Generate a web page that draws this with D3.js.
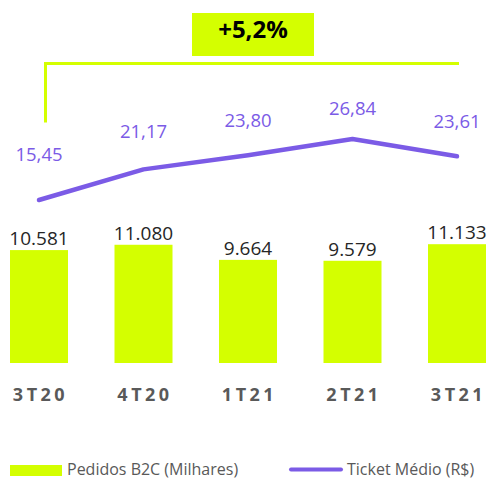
<!DOCTYPE html>
<meta charset="utf-8">
<head>
<script src="https://d3js.org/d3.v7.min.js"></script>
<style>
  body { margin: 0; background: #fff; }
  text { font-family: "Open Sans", "Liberation Sans", sans-serif; }
</style>
</head>
<body>
<div id="my_dataviz"></div>
<script>

// data
var quarters = ["3T20", "4T20", "1T21", "2T21", "3T21"];
var pedidos = [10581, 11080, 9664, 9579, 11133];
var ticket = [15.45, 21.17, 23.80, 26.84, 23.61];
var pedidosLabels = ["10.581", "11.080", "9.664", "9.579", "11.133"];
var ticketLabels = ["15,45", "21,17", "23,80", "26,84", "23,61"];
var growthLabel = "+5,2%";
var legendNames = ["Pedidos B2C (Milhares)", "Ticket Médio (R$)"];

var width = 490, height = 480;
var green = "#D4FF00", purple = "#7B5BE6", gray = "#595959";

var svg = d3.select("#my_dataviz")
  .append("svg")
    .attr("width", width)
    .attr("height", height);

// x scale, bar centres ~39 .. 457
var x = d3.scaleBand()
  .domain(quarters)
  .range([-13.25, 509.25])
  .paddingInner(0.445)
  .paddingOuter(0.2225);

function cx(d) { return x(d) + x.bandwidth() / 2; }

// bars
var yBar = d3.scaleLinear()
  .domain([0, 11133])
  .range([363, 244.2]);

svg.append("g")
  .selectAll("rect")
  .data(quarters)
  .enter()
  .append("rect")
    .attr("x", function(d) { return x(d); })
    .attr("y", function(d, i) { return yBar(pedidos[i]); })
    .attr("width", x.bandwidth())
    .attr("height", function(d, i) { return yBar(0) - yBar(pedidos[i]); })
    .style("fill", green);

// bar labels
svg.append("g")
  .selectAll("text")
  .data(quarters)
  .enter()
  .append("text")
    .attr("x", cx)
    .attr("y", function(d, i) { return yBar(pedidos[i]) - 5; })
    .attr("text-anchor", "middle")
    .style("font-size", "19px")
    .style("fill", "#262626")
    .text(function(d, i) { return pedidosLabels[i]; });

// line
var yLine = d3.scaleLinear()
  .domain([15.45, 26.84])
  .range([200, 139]);

var line = d3.line()
  .x(function(d, i) { return cx(quarters[i]); })
  .y(function(d) { return yLine(d); });

svg.append("path")
  .datum(ticket)
  .attr("d", line)
  .style("fill", "none")
  .style("stroke", purple)
  .style("stroke-width", 4.5)
  .style("stroke-linecap", "round")
  .style("stroke-linejoin", "round");

// line labels
var yLabel = d3.scaleLinear()
  .domain([15.45, 26.84])
  .range([161, 115]);

svg.append("g")
  .selectAll("text")
  .data(quarters)
  .enter()
  .append("text")
    .attr("x", cx)
    .attr("y", function(d, i) { return yLabel(ticket[i]); })
    .attr("text-anchor", "middle")
    .style("font-size", "18.5px")
    .style("fill", purple)
    .text(function(d, i) { return ticketLabels[i]; });

// x axis labels
svg.append("g")
  .selectAll("text")
  .data(quarters)
  .enter()
  .append("text")
    .attr("x", function(d) { return cx(d) + 1.5; })
    .attr("y", 401)
    .attr("text-anchor", "middle")
    .style("font-size", "18px")
    .style("font-weight", "bold")
    .style("letter-spacing", "3.5px")
    .style("fill", gray)
    .text(function(d) { return d; });

// growth bracket
var left = cx(quarters[0]) + 6.5, right = cx(quarters[quarters.length - 1]) + 2;
svg.append("path")
  .attr("d", "M" + left + ",122.5V63.5H" + right)
  .style("fill", "none")
  .style("stroke", green)
  .style("stroke-width", 3);

svg.append("rect")
  .attr("x", 192)
  .attr("y", 13)
  .attr("width", 122)
  .attr("height", 43)
  .style("fill", green);

svg.append("text")
  .attr("x", 253)
  .attr("y", 38)
  .attr("text-anchor", "middle")
  .style("font-size", "24px")
  .style("font-weight", "bold")
  .style("fill", "#000")
  .text(growthLabel);

// legend
svg.append("rect")
  .attr("x", 10)
  .attr("y", 465)
  .attr("width", 52)
  .attr("height", 11)
  .style("fill", green);

svg.append("text")
  .attr("x", 67)
  .attr("y", 475)
  .style("font-size", "16px")
  .style("fill", gray)
  .text(legendNames[0]);

svg.append("line")
  .attr("x1", 291)
  .attr("x2", 341)
  .attr("y1", 469.5)
  .attr("y2", 469.5)
  .style("stroke", purple)
  .style("stroke-width", 4)
  .style("stroke-linecap", "round");

svg.append("text")
  .attr("x", 347)
  .attr("y", 475)
  .style("font-size", "16px")
  .style("fill", gray)
  .text(legendNames[1]);

</script>
</body>
</html>
